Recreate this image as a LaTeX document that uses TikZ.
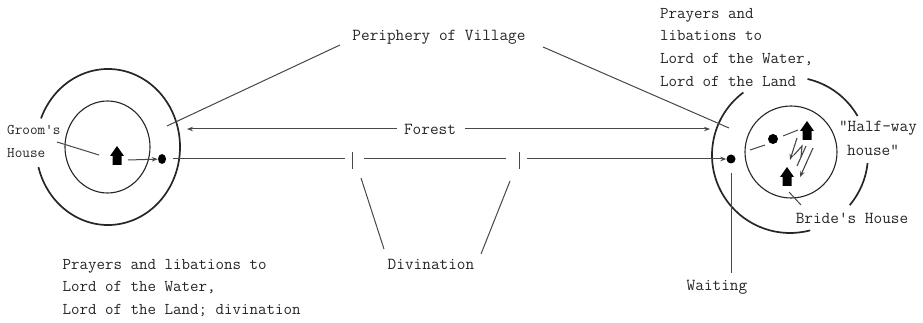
\documentclass[tikz,border=0pt]{standalone}
\usepackage{fontspec}
\usetikzlibrary{arrows.meta,shapes.geometric}
\definecolor{ink}{HTML}{262626}
\tikzset{
  txt/.style={font=\ttfamily\fontsize{16.8}{22.7}\selectfont, text=ink, inner sep=0pt, align=left},
  small txt/.style={font=\ttfamily\fontsize{14.8}{22.7}\selectfont, text=ink, inner sep=0pt, align=left},
  para/.style={font=\ttfamily\fontsize{16.5}{22.7}\selectfont, text=ink, inner sep=0pt, align=left},
  ring/.style={draw=ink, line width=1.7pt},
  innerring/.style={draw=ink, line width=1.1pt},
  thin line/.style={draw=ink!85, line width=1pt},
  arrowline/.style={thin line, -{Stealth[length=6pt,width=4.5pt]}},
  spot/.style={fill=black, inner sep=0pt, draw=none},
  hut/.pic={\fill[black] (0,-10) -- (7,0) -- (4.5,0) -- (4.5,9) -- (-4.5,9) -- (-4.5,0) -- (-7,0) -- cycle;}
}
\begin{document}
\begin{tikzpicture}[x=1pt,y=-1pt]
\useasboundingbox (0,0) rectangle (923,323);
% circle centres
\coordinate (lc) at (108,147);
\coordinate (rc) at (790,155);
% rings
\draw[ring] ([shift={(195:72pt and 78pt)}]lc) arc[start angle=195,end angle=518.5,x radius=72pt,y radius=78pt];
\draw[innerring] (107.5,147) ellipse[x radius=42.5pt,y radius=46pt];
\draw[ring] ([shift={(126.7:78pt)}]rc) arc[start angle=126.7,end angle=285,radius=78pt];
\draw[ring] ([shift={(77:78pt)}]rc) arc[start angle=77,end angle=30,radius=78pt];
\draw[ring] ([shift={(-6:78pt)}]rc) arc[start angle=-6,end angle=-40,radius=78pt];
\draw[innerring] (791,152) circle[radius=46pt];
% houses
\pic at (117,156) {hut};
\pic at (807,131) {hut};
\pic at (787,177) {hut};
% dots
\node[spot,ellipse,minimum width=8pt,minimum height=10pt] (ld) at (162,159) {};
\node[spot,circle,minimum size=9pt] (rd) at (731,159) {};
\node[spot,circle,minimum size=10pt] (id) at (773,139) {};
\coordinate (gh1) at (57,142); \coordinate (gh2) at (99,155);
\coordinate (lh) at (128,160);
\coordinate (m0) at (173,159); \coordinate (m1) at (345,159);
\coordinate (t1a) at (352,152); \coordinate (t1b) at (352,169);
\coordinate (m2) at (364,159); \coordinate (m3) at (506,159);
\coordinate (t2a) at (519,152); \coordinate (t2b) at (519,169);
\coordinate (m4) at (527,159);
\coordinate (fl) at (187,129); \coordinate (fr) at (710,129);
\coordinate (pl) at (167,126); \coordinate (pr) at (729,128);
\coordinate (pe1) at (340,45); \coordinate (pe2) at (543,47);
\coordinate (d1) at (361,178); \coordinate (d2) at (510,181);
\coordinate (d3) at (384,249); \coordinate (d4) at (481,254);
\coordinate (w1) at (731,173); \coordinate (w2) at (731,273);
\coordinate (b1) at (789,192); \coordinate (b2) at (801,205);
\coordinate (i1) at (750,150); \coordinate (i2) at (765,145);
\coordinate (i3) at (783,136); \coordinate (i4) at (798,130);
% labels
\node[txt,anchor=center] (peri) at (439,37) {Periphery of Village};
\node[txt,anchor=center] (forest) at (430,129) {Forest};
\node[txt,anchor=center] (divin) at (431,264) {Divination};
\node[txt,anchor=center] (wait) at (717,287) {Waiting};
\node[small txt,anchor=west] (g1) at (7,130) {Groom's};
\node[small txt,anchor=west] (g2) at (7,153) {House};
\node[txt,anchor=center] (hw1) at (878,128) {"Half-way};
\node[txt,anchor=center] (hw2) at (873,150) {house"};
\node[txt,anchor=center] (bride) at (852,218) {Bride's House};
\node[para,anchor=north west] (pr1) at (660,8) {Prayers and\\libations to\\Lord of the Water,\\Lord of the Land};
\node[para,anchor=north west] (pr2) at (62.5,259) {Prayers and libations to\\Lord of the Water,\\Lord of the Land; divination};
% connectors
\draw[thin line] (gh1) -- (gh2);
\draw[arrowline] (lh) -- (ld);
\draw[thin line] (m0) -- (m1);
\draw[thin line] (t1a) -- (t1b);
\draw[thin line] (m2) -- (m3);
\draw[thin line] (t2a) -- (t2b);
\draw[arrowline] (m4) -- (rd);
\draw[arrowline] ([xshift=-7pt]forest.west) -- (fl);
\draw[arrowline] ([xshift=9pt]forest.east) -- (fr);
\draw[thin line] (pl) -- (pe1);
\draw[thin line] (pe2) -- (pr);
\draw[thin line] (d1) -- (d3);
\draw[thin line] (d2) -- (d4);
\draw[thin line] (w1) -- (w2);
\draw[thin line] (b1) -- (b2);
\draw[thin line] (i1) -- (i2);
\draw[thin line] (i3) -- (i4);
% zigzag arrows between the houses
\draw[arrowline,line width=1.1pt] (797,138) -- (790,160);
\draw[thin line,line width=1.1pt] (794,155) -- (802,146) -- (801,157);
\draw[thin line,line width=1.1pt] (806,146) -- (797,166);
\draw[arrowline,line width=1.1pt] (813,148) -- (800,177);
\end{tikzpicture}
\end{document}
